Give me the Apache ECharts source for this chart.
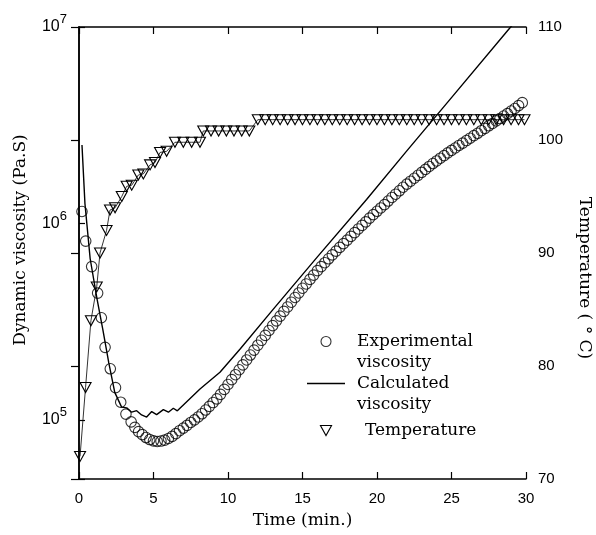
<!DOCTYPE html>
<html><head><meta charset="utf-8">
<script src="https://cdn.jsdelivr.net/npm/echarts@6/dist/echarts.min.js"></script>
<style>html,body{margin:0;padding:0;background:#fff}#c{width:596px;height:535px}</style>
</head><body><div id="c"></div>
<script>
// Experimental viscosity (Pa.s) vs time (min)
const expTime = [0.2,0.45,0.85,1.25,1.5,1.75,2.1,2.45,2.8,3.15,
  3.5,3.75,4.0,4.25,4.5,4.75,5.0,5.25,5.5,5.75,
  6.0,6.25,6.5,6.75,7.0,7.25,7.5,7.75,8.0,8.25,
  8.5,8.75,9.0,9.25,9.5,9.75,10.0,10.25,10.5,10.75,
  11.0,11.25,11.5,11.75,12.0,12.25,12.5,12.75,13.0,13.25,
  13.5,13.75,14.0,14.25,14.5,14.75,15.0,15.25,15.5,15.75,
  16.0,16.25,16.5,16.75,17.0,17.25,17.5,17.75,18.0,18.25,
  18.5,18.75,19.0,19.25,19.5,19.75,20.0,20.25,20.5,20.75,
  21.0,21.25,21.5,21.75,22.0,22.25,22.5,22.75,23.0,23.25,
  23.5,23.75,24.0,24.25,24.5,24.75,25.0,25.25,25.5,25.75,
  26.0,26.25,26.5,26.75,27.0,27.25,27.5,27.75,28.0,28.25,
  28.5,28.75,29.0,29.25,29.5,29.75];
const expVisc = [1.15e6,8.13e5,6.03e5,4.42e5,3.31e5,2.34e5,1.82e5,1.46e5,1.23e5,1.07e5,
  9.77e4,9.16e4,8.71e4,8.41e4,8.13e4,7.94e4,7.82e4,7.76e4,7.80e4,7.89e4,
  8.04e4,8.24e4,8.51e4,8.81e4,9.08e4,9.38e4,9.70e4,1.0e5,1.035e5,1.074e5,
  1.122e5,1.172e5,1.225e5,1.279e5,1.349e5,1.429e5,1.514e5,1.603e5,1.698e5,1.799e5,
  1.905e5,2.018e5,2.138e5,2.265e5,2.399e5,2.541e5,2.692e5,2.851e5,3.020e5,3.192e5,
  3.373e5,3.565e5,3.758e5,3.972e5,4.198e5,4.426e5,4.677e5,4.920e5,5.188e5,5.458e5,
  5.754e5,6.026e5,6.310e5,6.607e5,6.918e5,7.228e5,7.551e5,7.889e5,8.222e5,8.590e5,
  8.974e5,9.376e5,9.772e5,1.019e6,1.064e6,1.109e6,1.153e6,1.199e6,1.247e6,1.300e6,
  1.355e6,1.409e6,1.466e6,1.528e6,1.585e6,1.641e6,1.698e6,1.758e6,1.820e6,1.884e6,
  1.950e6,2.018e6,2.080e6,2.148e6,2.213e6,2.286e6,2.355e6,2.421e6,2.495e6,2.564e6,
  2.642e6,2.716e6,2.799e6,2.877e6,2.965e6,3.048e6,3.141e6,3.228e6,3.327e6,3.420e6,
  3.524e6,3.622e6,3.733e6,3.846e6,3.981e6,4.121e6];

// Calculated viscosity (Pa.s)
const calcTime = [0.2,0.4,0.75,1.2,1.6,2.0,2.4,2.86,3.2,3.53,3.87,4.2,4.54,4.88,5.21,5.66,6.0,6.33,6.6,8.12,8.23,9.46,10.8,13,16,19.3,22,25,28.8,30];
const calcVisc = [2.51e6,1.26e6,6.61e5,4.17e5,2.88e5,1.95e5,1.38e5,1.161e5,1.151e5,1.094e5,1.114e5,1.059e5,1.033e5,1.102e5,1.064e5,1.127e5,1.094e5,1.146e5,1.112e5,1.435e5,1.416e5,1.746e5,2.29e5,3.63e5,6.76e5,1.324e6,2.34e6,4.37e6,9.66e6,1.23e7];

// Temperature (°C)
const tempTime = [0.07,0.44,0.8,1.19,1.41,1.85,2.08,2.42,2.87,3.2,3.54,3.98,4.32,4.77,5.1,5.44,5.88,
  6.44,7.0,7.56,8.12,
  8.34,8.86,9.37,9.89,10.4,10.92,11.43,
  12.0,12.5,13.0,13.5,14.0,14.5,15.0,15.5,16.0,16.5,17.0,17.5,18.0,18.5,19.0,19.5,20.0,20.5,21.0,
  21.5,22.0,22.5,23.0,23.5,24.0,24.5,25.0,25.5,26.0,26.5,27.0,27.5,28.0,28.5,29.0,29.5,29.9];
const tempVal = [72.0,78.1,84.0,87.0,90.0,92.0,93.8,94.0,95.0,95.9,96.0,96.9,97.0,97.8,98.0,98.9,99.0,
  99.8,99.8,99.8,99.8,
  100.8,100.8,100.8,100.8,100.8,100.8,100.8,
  101.8,101.8,101.8,101.8,101.8,101.8,101.8,101.8,101.8,101.8,101.8,101.8,101.8,101.8,101.8,101.8,101.8,101.8,101.8,
  101.8,101.8,101.8,101.8,101.8,101.8,101.8,101.8,101.8,101.8,101.8,101.8,101.8,101.8,101.8,101.8,101.8,101.8];

const seriesNames = ['Experimental\nviscosity', 'Calculated\nviscosity', 'Temperature'];
const xAxisName = 'Time (min.)';
const yLeftName = 'Dynamic viscosity (Pa.S)';
const yRightName = 'Temperature ( \u00b0 C)';

const SERIF = 'DejaVu Serif';
const SANS = 'Liberation Sans';
const BLACK = '#000';
const axisLine = {show: true, lineStyle: {color: BLACK, width: 1.5}};

const chart = echarts.init(document.getElementById('c'), null, {renderer: 'canvas'});
const option = {
  backgroundColor: '#fff',
  animation: false,
  grid: {left: 79, right: 70, top: 27, bottom: 56, containLabel: false, outerBoundsMode: 'none'},
  xAxis: [
    {type: 'value', min: 0, max: 30, interval: 5, position: 'bottom',
     name: xAxisName, nameLocation: 'middle', nameGap: 33,
     nameTextStyle: {fontFamily: SERIF, fontSize: 17, color: BLACK},
     axisLine: axisLine,
     axisTick: {show: true, inside: true, length: 7, lineStyle: {color: BLACK, width: 1.2}},
     axisLabel: {color: BLACK, fontFamily: SANS, fontSize: 15, margin: 12},
     splitLine: {show: false}},
    {type: 'value', min: 0, max: 30, interval: 5, position: 'top',
     axisLine: axisLine,
     axisTick: {show: true, inside: true, length: 7, lineStyle: {color: BLACK, width: 1.2}},
     axisLabel: {show: false}, splitLine: {show: false}}
  ],
  yAxis: [
    {type: 'log', logBase: 10, min: 5e4, max: 1e7, position: 'left',
     name: yLeftName, nameLocation: 'middle', nameGap: 50,
     nameTextStyle: {fontFamily: SERIF, fontSize: 17, color: BLACK, padding: [0, 0, 0, 26]},
     axisLine: axisLine,
     axisTick: {show: true, inside: true, length: 6, lineStyle: {color: BLACK, width: 1.2}},
     minorTick: {show: false},
     axisLabel: {
       color: BLACK, margin: 12,
       formatter: function (v) {
         const e = Math.round(Math.log10(v));
         if (Math.abs(v - Math.pow(10, e)) / v > 1e-6) return '';
         return '{b|10}{s|' + e + '}';
       },
       rich: {
         b: {fontFamily: SANS, fontSize: 16, lineHeight: 28, color: BLACK},
         s: {fontFamily: SANS, fontSize: 13, lineHeight: 13, verticalAlign: 'top', color: BLACK}
       }
     },
     splitLine: {show: false}},
    {type: 'value', min: 70, max: 110, interval: 10, position: 'right',
     name: yRightName, nameLocation: 'middle', nameRotate: -90, nameGap: 50,
     nameTextStyle: {fontFamily: SERIF, fontSize: 17, color: BLACK, padding: [0, 0, 0, 50]},
     axisLine: axisLine,
     axisTick: {show: true, inside: true, length: 8, lineStyle: {color: BLACK, width: 1.2}},
     axisLabel: {color: BLACK, fontFamily: SANS, fontSize: 15, margin: 12},
     splitLine: {show: false}}
  ],
  legend: {
    orient: 'vertical', left: 307, top: 310, padding: 0,
    itemWidth: 38, itemHeight: 10, itemGap: -21, selectedMode: false,
    formatter: function (name) { return name.indexOf('\n') >= 0 ? ' \n' + name : name; },
    textStyle: {fontFamily: SERIF, fontSize: 17, color: BLACK, lineHeight: 21, padding: [0, 0, 0, 7]},
    data: [
      {name: seriesNames[0], icon: 'circle',
       itemStyle: {color: 'rgba(0,0,0,0)', borderColor: BLACK, borderWidth: 1.1}},
      {name: seriesNames[1], icon: 'path://M0,0L38,0L38,1.4L0,1.4Z',
       itemStyle: {color: BLACK, borderWidth: 0}},
      {name: seriesNames[2], icon: 'path://M0,0L10,0L5,9Z',
       itemStyle: {color: 'rgba(0,0,0,0)', borderColor: BLACK, borderWidth: 1.1},
       textStyle: {padding: [26, 0, 26, 15]}}
    ]
  },
  series: [
    {name: seriesNames[0], type: 'scatter', xAxisIndex: 0, yAxisIndex: 0,
     symbol: 'circle', symbolSize: 10.5,
     itemStyle: {color: 'rgba(0,0,0,0)', borderColor: BLACK, borderWidth: 1.1},
     data: expTime.map((t, i) => [t, expVisc[i]])},
    {name: seriesNames[1], type: 'line', xAxisIndex: 0, yAxisIndex: 0,
     symbol: 'none', lineStyle: {color: BLACK, width: 1.4}, itemStyle: {color: BLACK},
     data: calcTime.map((t, i) => [t, calcVisc[i]])},
    {name: seriesNames[2], type: 'line', xAxisIndex: 0, yAxisIndex: 1,
     symbol: 'triangle', symbolRotate: 180, symbolSize: [11, 10], showSymbol: true, showAllSymbol: true,
     lineStyle: {color: BLACK, width: 0.8},
     itemStyle: {color: 'rgba(0,0,0,0)', borderColor: BLACK, borderWidth: 1.1},
     data: tempTime.map((t, i) => [t, tempVal[i]])}
  ]
};
chart.setOption(option);
</script></body></html>
